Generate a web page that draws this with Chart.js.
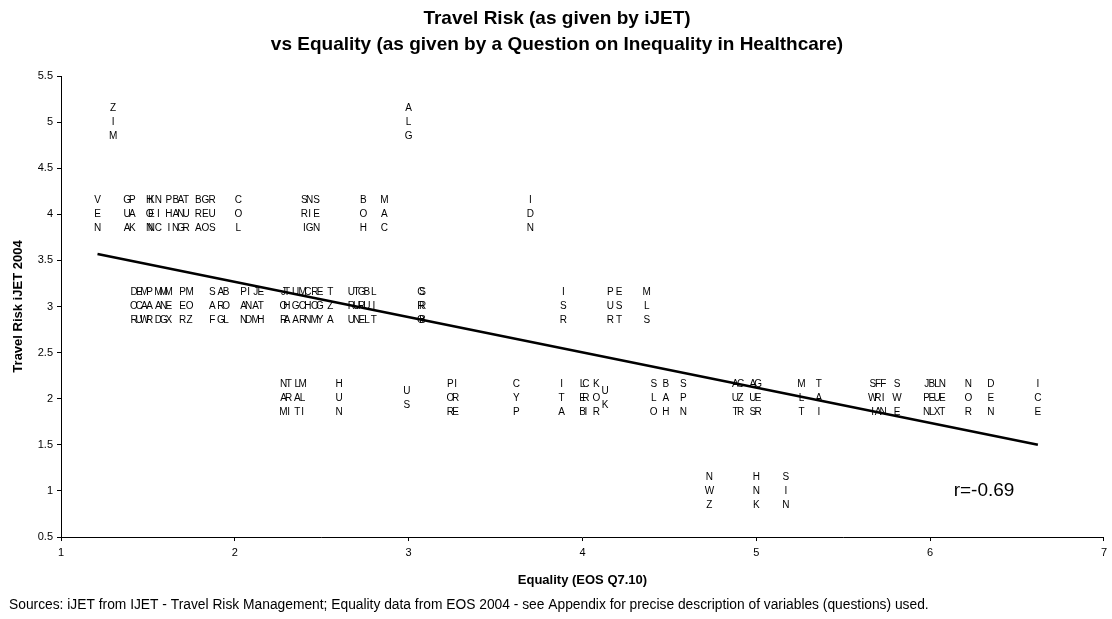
<!DOCTYPE html>
<html><head><meta charset="utf-8">
<script src="https://cdn.jsdelivr.net/npm/chart.js@4/dist/chart.umd.min.js"></script>
<style>html,body{margin:0;padding:0;background:#fff}#wrap{width:1112px;height:619px}</style>
</head><body><div id="wrap"><canvas id="c" width="1112" height="619"></canvas></div>
<script>
// ---- data ----
const countries = [
  'ZIM','ALG',
  'VEN','GUA','PAK','HON','KEN','NIC','PHI','BAN','ANG','TUR','BRA','GEO','RUS','COL','SRI','NIG','SEN','BOH','MAC','IDN',
  'DOR','ECU','MAW','PAR','MAD','MNG','MEX','PER','MOZ','SAF','ARG','BOL','PAN','IND','JAM','ETH','JOR','THA','UGA','MOR','CHN','ROM','EGY','TZA','URU','TUN','GRE','BUL','LIT','CRO','SRB','ISR','PUR','EST','MLS',
  'NAM','TRI','LAT','MLI','HUN','US','POR','IRE','CYP','ITA','LEB','CRI','KOR','UK','SLO','BAH','SPN','AUT','CZR','AUS','GER','MLT','TAI','SWI','FRA','FIN','SWE','JPN','BEL','LUX','NET','NOR','DEN','ICE',
  'NWZ','HNK','SIN'
];
const equality = [
  1.30,3.00,
  1.21,1.38,1.41,1.51,1.52,1.56,1.62,1.66,1.69,1.72,1.79,1.83,1.87,2.02,2.40,2.43,2.47,2.74,2.86,3.70,
  1.42,1.45,1.48,1.51,1.56,1.59,1.62,1.70,1.74,1.87,1.92,1.95,2.05,2.08,2.12,2.15,2.28,2.30,2.35,2.39,2.42,2.46,2.49,2.55,2.67,2.70,2.73,2.76,2.80,3.07,3.08,3.89,4.16,4.21,4.37,
  2.28,2.31,2.36,2.39,2.60,2.99,3.24,3.27,3.62,3.88,4.00,4.02,4.08,4.13,4.41,4.48,4.58,4.88,4.91,4.98,5.01,5.26,5.36,5.67,5.70,5.73,5.81,5.98,6.01,6.04,6.07,6.22,6.35,6.62,
  4.73,5.00,5.17
];
const travelRisk = [
  5,5,
  4,4,4,4,4,4,4,4,4,4,4,4,4,4,4,4,4,4,4,4,
  3,3,3,3,3,3,3,3,3,3,3,3,3,3,3,3,3,3,3,3,3,3,3,3,3,3,3,3,3,3,3,3,3,3,3,
  2,2,2,2,2,2,2,2,2,2,2,2,2,2,2,2,2,2,2,2,2,2,2,2,2,2,2,2,2,2,2,2,2,2,
  1,1,1
];
const trendX = [1.21, 6.62];
const trendY = [3.57, 1.50];
const xTicks = [1,2,3,4,5,6,7];
const yTicks = [0.5,1,1.5,2,2.5,3,3.5,4,4.5,5,5.5];
const rLabel = 'r=-0.69';
const rPos = [6.31, 1.0];
const titleLines = ['Travel Risk (as given by iJET)','vs Equality (as given by a Question on Inequality in Healthcare)'];
const xTitle = 'Equality (EOS Q7.10)';
const yTitle = 'Travel Risk iJET 2004';
const sourceNote = 'Sources: iJET from IJET - Travel Risk Management; Equality data from EOS 2004 - see Appendix for precise description of variables (questions) used.';

// ---- chart ----
const FAM = '"Liberation Sans", Arial, sans-serif';
const codeLabels = {
  id: 'codeLabels',
  beforeDatasetsDraw(chart) {
    const ctx = chart.ctx;
    const meta = chart.getDatasetMeta(0);
    ctx.save();
    ctx.font = '10px ' + FAM;
    ctx.fillStyle = '#000';
    ctx.textAlign = 'center';
    ctx.textBaseline = 'middle';
    meta.data.forEach((pt, i) => {
      const code = countries[i];
      const n = code.length;
      for (let k = 0; k < n; k++) {
        ctx.fillText(code[k], pt.x, pt.y + (k - (n - 1) / 2) * 14);
      }
    });
    const xs = chart.scales.x, ys = chart.scales.y;
    ctx.font = '19px ' + FAM;
    ctx.fillText(rLabel, xs.getPixelForValue(rPos[0]), ys.getPixelForValue(rPos[1]));
    ctx.restore();
  }
};

new Chart(document.getElementById('c'), {
  data: {
    datasets: [
      {
        type: 'scatter',
        data: equality.map((x, i) => ({x: x, y: travelRisk[i]})),
        pointRadius: 0, pointHoverRadius: 0, showLine: false
      },
      {
        type: 'line',
        data: trendX.map((x, i) => ({x: x, y: trendY[i]})),
        borderColor: '#000', borderWidth: 2.5, pointRadius: 0, fill: false, tension: 0
      }
    ]
  },
  options: {
    responsive: false,
    animation: false,
    devicePixelRatio: 1,
    layout: { padding: { left: 9, right: 7, top: 0, bottom: 0 } },
    plugins: {
      legend: { display: false },
      tooltip: { enabled: false },
      title: {
        display: true, text: titleLines, color: '#000',
        font: { family: FAM, size: 19, weight: 'bold', lineHeight: 26/19 },
        padding: { top: 6, bottom: 18 }
      },
      subtitle: {
        display: true, text: sourceNote, color: '#000', position: 'bottom', align: 'start',
        font: { family: FAM, size: 13.8, weight: 'normal', lineHeight: 1.2 },
        padding: { top: 0, bottom: 6 }
      }
    },
    scales: {
      x: {
        type: 'linear', position: 'bottom', min: 1, max: 7,
        afterBuildTicks: s => { s.ticks = xTicks.map(v => ({value: v})); },
        afterFit: s => { s.height = 59.4; },
        grid: { display: true, drawOnChartArea: false, drawTicks: true, tickLength: 4, color: '#000' },
        border: { display: true, color: '#000', width: 1 },
        ticks: { color: '#000', font: { family: FAM, size: 11 }, padding: 5, maxRotation: 0, callback: v => String(v) },
        title: { display: true, text: xTitle, color: '#000', font: { family: FAM, size: 13, weight: 'bold' }, padding: { top: 0, bottom: 8.6 } }
      },
      y: {
        type: 'linear', position: 'left', min: 0.5, max: 5.5,
        afterBuildTicks: s => { s.ticks = yTicks.map(v => ({value: v})); },
        afterFit: s => { s.width = 52; },
        grid: { display: true, drawOnChartArea: false, drawTicks: true, tickLength: 4, color: '#000' },
        border: { display: true, color: '#000', width: 1 },
        ticks: { color: '#000', font: { family: FAM, size: 11 }, padding: 4, callback: v => String(v) },
        title: { display: true, text: yTitle, color: '#000', font: { family: FAM, size: 13, weight: 'bold' }, padding: { top: 1.2, bottom: 0 } }
      }
    }
  },
  plugins: [codeLabels]
});
</script></body></html>
